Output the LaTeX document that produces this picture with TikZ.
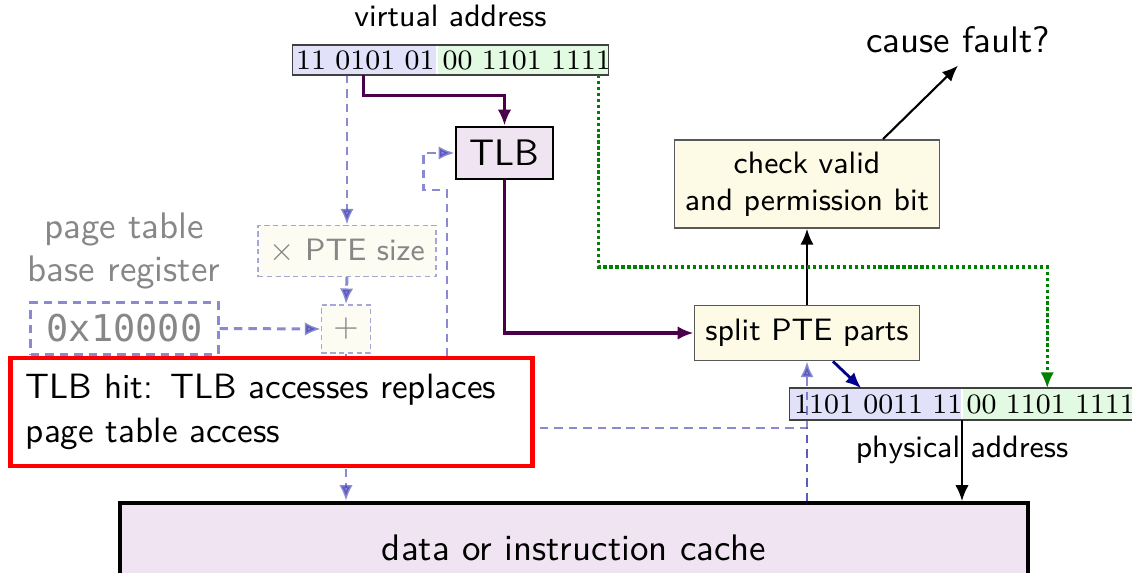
\documentclass[tikz,border=0pt]{standalone}
\usepackage{fontspec}
\newfontfamily\codefont{DejaVu Sans Mono}
\usetikzlibrary{calc, positioning}
\usetikzlibrary{arrows.meta}

\newcommand{\normsz}{\fontsize{8.8}{10.6}\selectfont}
\newcommand{\bigsz}{\fontsize{10.5}{12.5}\selectfont}

\definecolor{vpnfill}{RGB}{225,225,250}
\definecolor{offfill}{RGB}{225,250,225}
\definecolor{tlbfill}{RGB}{240,228,242}
\definecolor{stepfill}{RGB}{253,251,230}
\definecolor{fadefill}{RGB}{252,252,242}
\definecolor{fadegray}{RGB}{135,135,135}
\definecolor{missblue}{RGB}{60,60,180}
\definecolor{tlbpurple}{RGB}{75,0,75}
\definecolor{ppnnavy}{RGB}{0,0,140}
\definecolor{offgreen}{RGB}{0,128,0}

\tikzset{
  bits/.style={inner ysep=0pt, minimum height=0.28cm,
    font=\rmfamily\fontsize{8}{9.6}\selectfont},
  addrframe/.style={draw=black!75, line width=0.5pt},
  stepbox/.style={draw=black!65, fill=stepfill, line width=0.5pt,
    inner sep=0pt, align=center},
  fadebox/.style={draw=missblue, draw opacity=0.45, fill=fadefill,
    dash pattern=on 1.5pt off 1pt, line width=0.4pt, text=fadegray, inner sep=0pt},
  tip/.style={-{Latex[length=4.5pt,width=3.8pt]}},
  tlbline/.style={draw=tlbpurple, line width=0.9pt, tip},
  missline/.style={draw=missblue, draw opacity=0.6, fill opacity=0.6,
    line width=0.85pt, dash pattern=on 2.4pt off 1.7pt},
  offline/.style={draw=offgreen, line width=0.9pt,
    dash pattern=on 0.9pt off 0.8pt, tip},
  plainline/.style={draw=black, line width=0.6pt, tip},
}

\begin{document}
\begin{tikzpicture}[x=0.01cm,y=-0.01cm,font=\sffamily\normsz]
\useasboundingbox (0,0) rectangle (1132,573);

% virtual address
\node[bits, fill=vpnfill, anchor=east, inner xsep=0.03cm, text width=1.37cm, align=right] (vpn) at (437,60) {\mbox{11 0101 01}};
\node[bits, fill=offfill, anchor=west, inner xsep=0.05cm, text width=1.60cm, align=left] (voff) at (437,60) {\mbox{00 1101 1111}};
\draw[addrframe] (vpn.north west) rectangle (voff.south east);
\node[above=0.06cm] (valabel) at ($(vpn.north west)!0.5!(voff.north east)$) {virtual address};

% physical address
\node[bits, fill=vpnfill, anchor=east, inner xsep=0.04cm, text width=1.63cm, align=right, minimum height=0.30cm] (ppn) at (962,404) {\mbox{1101 0011 11}};
\node[bits, fill=offfill, anchor=west, inner xsep=0.04cm, text width=1.61cm, align=left, minimum height=0.30cm] (poff) at (962,404) {\mbox{00 1101 1111}};
\draw[addrframe] (ppn.north west) rectangle (poff.south east);
\node[below=0.04cm] (palabel) at (ppn.south east) {physical address};

% TLB and PTE handling
\node[draw, fill=tlbfill, line width=0.8pt, inner sep=0pt, minimum width=0.97cm,
  minimum height=0.52cm, font=\sffamily\bigsz] (tlb) at (504.5,153) {TLB};
\node[stepbox, minimum width=2.25cm, minimum height=0.55cm] (split) at (807,333) {split PTE parts};
\node[stepbox, minimum width=2.65cm, minimum height=0.88cm] (check) at (807,184) {check valid\\and permission bit};
\node[font=\sffamily\bigsz] (fault) at (958,40) {cause fault?};

% page table walk (faded)
\node[align=center, text=fadegray, font=\sffamily\bigsz] (ptbrlabel) at (124,251) {page table\\base register};
\node[fadebox, minimum width=1.78cm, minimum height=0.51cm] (times) at (347,251) {$\times$ PTE size};
\node[fadebox, minimum width=0.49cm, minimum height=0.48cm] (plus) at (346,329) {$+$};
\node[draw=missblue, draw opacity=0.6, line width=0.85pt, dash pattern=on 2.4pt off 1.7pt,
  text=fadegray, inner sep=0pt, minimum width=1.87cm, minimum height=0.51cm,
  font=\codefont\bigsz] (ptbr) at (124.5,328.5) {0x10000};

% cache
\node[draw, fill=tlbfill, line width=1.1pt, minimum width=9.08cm, minimum height=0.9cm,
  font=\sffamily\bigsz] (cache) at (574,548) {data or instruction cache};

% lookup path
\draw[tlbline] ([xshift=0.71cm]vpn.south west) -- ++(0,21) -| (tlb.north);
\draw[tlbline] (tlb.south) |- (split.west);
\draw[plainline] (split.north) -- (check.south);
\draw[plainline] ([xshift=0.76cm]check.north) -- (fault.south);
\draw[draw=ppnnavy, line width=0.8pt, tip] ([xshift=0.26cm]split.south) -- ([xshift=-0.145cm]ppn.north);
\coordinate (offturn) at (poff.north |- 0,267);
\draw[offline] ([xshift=-0.1cm]voff.south east) |- (offturn) -- (poff.north);
\draw[plainline] (poff.south west) -- (poff.south west |- cache.north);

% page table walk arrows
\draw[missline, tip] (times.north |- vpn.south) -- (times.north);
\draw[missline, tip] (times.south) -- (plus.north);
\draw[missline, tip] (ptbr.east) -- (plus.west);
\draw[missline, tip] (plus.south) -- (plus.south |- cache.north);
\coordinate (cachetap) at (split.south |- cache.north);
\draw[missline, tip] (cachetap) -- (split.south);
\draw[missline, tip] (cachetap) |- (447,428) -- (447,190) -| ([xshift=-0.31cm]tlb.west) -- (tlb.west);

% note
\node[draw=red, fill=white, line width=1.4pt, align=left, text width=4.91cm,
  inner xsep=0.155cm, minimum height=1.08cm, font=\sffamily\fontsize{10}{12.4}\selectfont]
  (hit) at (271.5,412) {TLB hit: TLB accesses replaces\\page table access};
\end{tikzpicture}
\end{document}
